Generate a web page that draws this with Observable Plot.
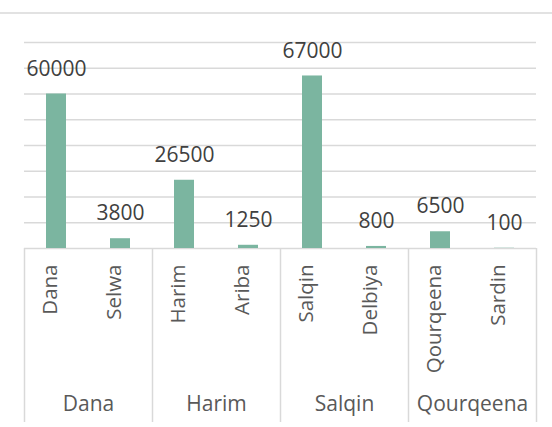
<!DOCTYPE html>
<html>
<head>
<meta charset="utf-8">
<script src="https://cdn.jsdelivr.net/npm/d3@7"></script>
<script src="https://cdn.jsdelivr.net/npm/@observablehq/plot@0.6"></script>
<style>
  html, body { margin: 0; padding: 0; background: #ffffff; }
  #chart svg { display: block; }
</style>
</head>
<body>
<div id="chart"></div>
<script>
// ---- data ----
const groups = ["Dana", "Harim", "Salqin", "Qourqeena"];
const subs = ["Dana", "Selwa", "Harim", "Ariba", "Salqin", "Delbiya", "Qourqeena", "Sardin"];
const values = [60000, 3800, 26500, 1250, 67000, 800, 6500, 100];
const gridTicks = [0, 10000, 20000, 30000, 40000, 50000, 60000, 70000, 80000];

const rows = subs.map((s, i) => ({ sub: s, group: groups[Math.floor(i / 2)], pos: i, value: values[i] }));
const groupRows = groups.map((g, i) => ({ group: g, pos: i * 2 }));
const dividers = d3.range(0, subs.length + 1, 2);

const W = 552, H = 427;
const barColor = "#7bb5a0";
const gridColor = "#d9d9d9";

const chart = Plot.plot({
  width: W,
  height: H,
  marginTop: 42,
  marginBottom: 179,
  marginLeft: 24,
  marginRight: 16,
  style: { fontFamily: "'Open Sans', sans-serif", background: "#ffffff" },
  x: { type: "linear", domain: [0, subs.length], axis: null },
  y: { domain: [0, 80000], axis: null },
  marks: [
    Plot.ruleY(gridTicks, { stroke: gridColor, strokeWidth: 1.5 }),
    Plot.ruleX(dividers, { y1: 0, y2: 0, insetBottom: -174, stroke: gridColor, strokeWidth: 1.5 }),
    Plot.rectY(rows, { x1: "pos", x2: d => d.pos + 1, y: "value", fill: barColor, insetLeft: 22, insetRight: 22 }),
    Plot.text(rows, { x: d => d.pos + 0.5, y: "value", text: d => String(d.value), dy: -25, fontSize: 21, fill: "#404040" }),
    Plot.text(rows, { x: d => d.pos + 0.5, text: "sub", frameAnchor: "bottom", rotate: -90, textAnchor: "end", dy: 16, fontSize: 20.5, fill: "#595959" }),
    Plot.text(groupRows, { x: d => d.pos + 1, text: "group", frameAnchor: "bottom", dy: 162, fontSize: 21, fill: "#595959" })
  ]
});

// chart area border (top edge)
d3.select(chart).append("line")
  .attr("x1", 0).attr("x2", W).attr("y1", 13).attr("y2", 13)
  .attr("stroke", gridColor).attr("stroke-width", 1.5);

document.getElementById("chart").appendChild(chart);
</script>
</body>
</html>
